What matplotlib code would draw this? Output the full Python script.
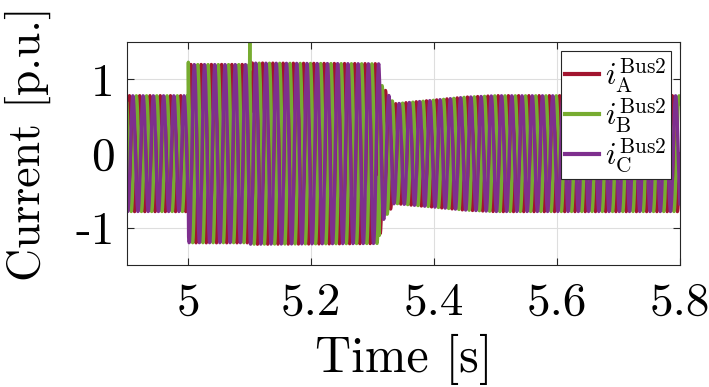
import numpy as np
import matplotlib
matplotlib.use("Agg")
import matplotlib.pyplot as plt

plt.rcParams["font.family"] = "serif"
plt.rcParams["font.serif"] = ["cmr10"]
plt.rcParams["mathtext.fontset"] = "cm"
plt.rcParams["axes.unicode_minus"] = False

# system frequency and sampling of the recorded waveform
f_grid = 60.0
fs = 2400.0
t_start, t_end = 4.9, 5.8

# peak current envelope (p.u.) read at these instants
env_t = [4.9, 5.0, 5.0001, 5.10, 5.1001, 5.31, 5.315, 5.325, 5.335, 5.36, 5.40, 5.45, 5.50, 5.8]
env_a = [0.78, 0.78, 1.20, 1.20, 1.22, 1.21, 0.92, 0.80, 0.67, 0.69, 0.72, 0.76, 0.78, 0.78]

# switching transients: (phase index, time, value)
spikes = [
    (1, 5.000, 1.23),
    (1, 5.100, 1.60),
    (0, 5.101, 1.24),
    (1, 5.311, -1.10),
]

phase_names = ["A", "B", "C"]
phase_shift = [0.0, 2 * np.pi / 3, -2 * np.pi / 3]
colors = ["#A2142F", "#77AC30", "#7E2F8E"]

t = np.arange(t_start, t_end + 1 / fs, 1 / fs)
env = np.interp(t, env_t, env_a)
currents = [env * np.sin(2 * np.pi * f_grid * t + ph) for ph in phase_shift]
for k, ts, val in spikes:
    currents[k][np.argmin(np.abs(t - ts))] = val

x_ticks = [5.0, 5.2, 5.4, 5.6, 5.8]
x_labels = ["5", "5.2", "5.4", "5.6", "5.8"]
y_ticks = [-1, 0, 1]
y_labels = ["-1", "0", "1"]

fig = plt.figure(figsize=(7.09, 3.87), dpi=100)
ax = fig.add_axes([0.179, 0.315, 0.78, 0.576])

for name, cur, c in zip(phase_names, currents, colors):
    ax.plot(t, cur, color=c, lw=2.4,
            label=r"$i_{\mathrm{%s}}^{\mathrm{Bus2}}$" % name)

ax.set_xlim(t_start, t_end)
ax.set_ylim(-1.5, 1.5)
ax.set_xticks(x_ticks, labels=x_labels)
ax.set_yticks(y_ticks, labels=y_labels)
ax.tick_params(direction="in", top=True, right=True, labelsize=34,
               length=5, width=0.8, color="#262626")
ax.tick_params(axis="x", pad=12)
ax.tick_params(axis="y", pad=9)
ax.grid(True, color="#dedede", lw=0.8)
ax.set_axisbelow(True)
for s in ax.spines.values():
    s.set_color("#262626")
    s.set_linewidth(0.8)

ax.set_xlabel("Time [s]", fontsize=36)
ax.set_ylabel("Current [p.u.]", fontsize=33)
ax.xaxis.set_label_coords(0.5, -0.31)
ax.yaxis.set_label_coords(-0.138, 0.545)

leg = ax.legend(loc="upper right", fontsize=22, handlelength=1.1,
                handletextpad=0.2, labelspacing=0.05, borderpad=0.15,
                borderaxespad=0.3, fancybox=False, framealpha=1,
                edgecolor="#262626")
leg.get_frame().set_linewidth(0.8)
for h in leg.get_lines():
    h.set_linewidth(3)

fig.savefig("out.png", dpi=100)
